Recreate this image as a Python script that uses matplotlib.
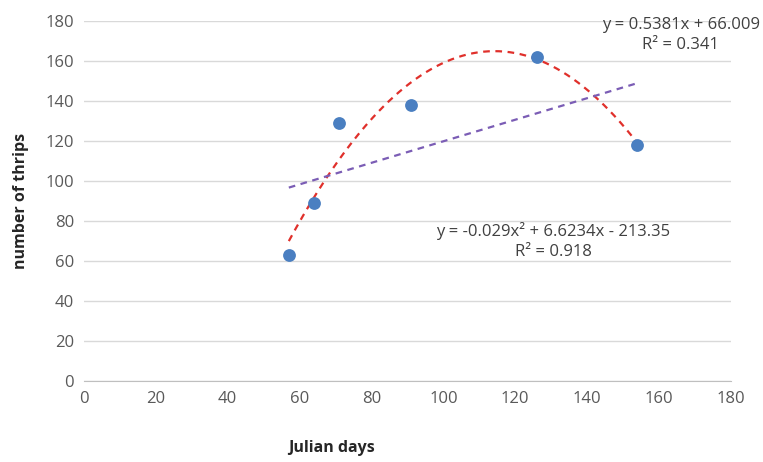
import numpy as np
import matplotlib.pyplot as plt

plt.rcParams['font.family'] = ['Open Sans', 'DejaVu Sans']

# data points
julian_days = [57, 64, 71, 91, 126, 154]
thrips = [63, 89, 129, 138, 162, 118]

# trendline coefficients (as printed on the chart)
lin_coef = [0.5381, 66.009]
quad_coef = [-0.029, 6.6234, -213.35]

xticks = [0, 20, 40, 60, 80, 100, 120, 140, 160, 180]
yticks = [0, 20, 40, 60, 80, 100, 120, 140, 160, 180]

fig = plt.figure(figsize=(7.63, 4.62), dpi=100)
ax = fig.add_axes([0.110, 0.175, 0.848, 0.780])

xs = np.linspace(min(julian_days), max(julian_days), 200)
ax.plot(xs, np.polyval(quad_coef, xs), color='#E0302B', ls=(0, (3, 2.5)), lw=1.6, zorder=3)
ax.plot(xs, np.polyval(lin_coef, xs), color='#7B5DB5', ls=(0, (3, 2.5)), lw=1.6, zorder=3)
ax.scatter(julian_days, thrips, s=85, color='#4A7FC1', zorder=4, linewidths=0)

ax.set_xlim(0, 180)
ax.set_ylim(0, 180)
ax.set_xticks(xticks)
ax.set_yticks(yticks)
ax.grid(axis='y', color='#D9D9D9', lw=1)
ax.set_axisbelow(True)
for s in ['top', 'right', 'left']:
    ax.spines[s].set_visible(False)
ax.spines['bottom'].set_color('#BFBFBF')
ax.tick_params(length=0, labelsize=12, colors='#595959', pad=7)

ax.set_xlabel('Julian days', fontsize=11.5, fontweight='bold', color='#262626')
ax.xaxis.set_label_coords(0.382, -0.163)
ax.set_ylabel('number of thrips', fontsize=11.5, fontweight='bold', color='#262626', labelpad=12)

ax.text(166, 173, 'y = 0.5381x + 66.009\nR² = 0.341', ha='center', va='center',
        fontsize=12, color='#404040', linespacing=1.35, clip_on=False)
ax.text(130.5, 70, 'y = -0.029x² + 6.6234x - 213.35\nR² = 0.918', ha='center', va='center',
        fontsize=12, color='#404040', linespacing=1.35)

fig.savefig('out.png', dpi=100)
